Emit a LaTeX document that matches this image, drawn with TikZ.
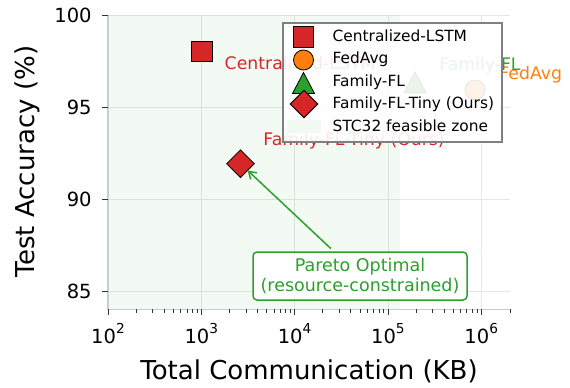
\documentclass[tikz,border=0pt]{standalone}
\usepackage{fontspec}
\setmainfont{DejaVu Sans}
\usetikzlibrary{calc,shapes.geometric,arrows.meta}

\definecolor{tabred}{HTML}{D62728}
\definecolor{taborange}{HTML}{FF7F0E}
\definecolor{tabgreen}{HTML}{2CA02C}
\definecolor{gridgray}{HTML}{E6E6E6}
\definecolor{spinegray}{HTML}{CCCCCC}
\definecolor{zonegreen}{HTML}{F2F9F2}

\begin{document}
\begin{tikzpicture}[x=1pt,y=-1pt,line width=0.8pt,
	ptmark/.style={draw=black,line width=0.8pt,inner sep=0pt,outer sep=0pt},
	ticklab/.style={inner sep=0pt,font=\fontsize{19.5}{22}\selectfont},
	ptlab/.style={inner sep=0pt,anchor=base west,font=\fontsize{17.3}{20}\selectfont},
	legtext/.style={inner sep=0pt,anchor=base west,font=\fontsize{15.4}{18}\selectfont},
	>={Straight Barb[length=7pt,width=9pt]}]

\useasboundingbox (0,0) rectangle (570,388);

%grid
\foreach \d in {3,...,6}
	\draw[gridgray] ({108+93.3*(\d-2)},15)--({108+93.3*(\d-2)},309.4);
\foreach \a in {85,90,95,100}
	\draw[gridgray] (108,{15+18.4*(100-\a)})--(510,{15+18.4*(100-\a)});

%STC32 zone
\fill[tabgreen,fill opacity=0.06] (108,15) rectangle (400,309.4);

%spines
\draw[spinegray,line width=1.2pt] (108,15)--(108,309.4)--(510,309.4);

%y ticks
\foreach \a in {85,90,95,100}{
	\draw[black!80] (108,{15+18.4*(100-\a)})--++(-6,0);
	\node[ticklab,anchor=east] (yl\a) at (92,{15+18.4*(100-\a)}) {\a};
}

%x ticks
\foreach \d in {2,...,6}{
	\draw[black!80] ({108+93.3*(\d-2)},309.4)--++(0,6);
	\node[ticklab,anchor=base] (xl\d) at ({108+93.3*(\d-2)},343) {10\raisebox{10pt}{\fontsize{13.7}{14}\selectfont\d}};
}
\foreach \d in {2,...,5}
	\foreach \m in {2,...,9}
		\draw[black!80,line width=0.6pt] ({108+93.3*(\d-2+log10(\m))},309.4)--++(0,3.5);
\draw[black!80,line width=0.6pt] (510,309.4)--++(0,3.5);

%axis labels
\node[inner sep=0pt,anchor=base,font=\fontsize{26}{30}\selectfont] (xlabel) at (309,379) {Total Communication (KB)};
\node[inner sep=0pt,rotate=90,font=\fontsize{26}{30}\selectfont] (ylabel) at (27,161.5) {Test Accuracy (\%)};

%points
\node[ptmark,fill=tabred,minimum size=20.5pt] (clstm) at (202,51.3) {};
\node[ptmark,fill=taborange,circle,minimum size=20pt] (fedavg) at (475,90) {};
\coordinate (famfl) at (415,82.5);
\draw[ptmark,fill=tabgreen] ($(famfl)+(0,-10.5)$)--($(famfl)+(11,10.5)$)--($(famfl)+(-11,10.5)$)--cycle;
\node[ptmark,fill=tabred,diamond,minimum width=27.6pt,minimum height=27.6pt] (fftiny) at (240.5,163.7) {};

%point labels
\node[ptlab,text=tabred] (clstmlab) at (224.3,69.3) {Centralized-LSTM};
\node[ptlab,text=taborange] (fedavglab) at (499,79.3) {FedAvg};
\node[ptlab,text=tabgreen] (famfllab) at (439,70.7) {Family-FL};
\node[ptlab,text=tabred] (fftinylab) at (263,145.5) {Family-FL-Tiny (Ours)};

%pareto note
\node[draw=tabgreen,line width=1.5pt,rounded corners=4pt,fill=white,text=tabgreen,align=center,inner sep=0pt,
	minimum width=214pt,minimum height=48pt,font=\fontsize{17.5}{20}\selectfont] (pareto) at (360,276) {Pareto Optimal\\(resource-constrained)};
\draw[tabgreen,line width=1.5pt,->,shorten <=4pt] (pareto)--(fftiny);

%legend
\node[draw=gray,line width=1.5pt,fill=white,fill opacity=0.9,draw opacity=1,inner sep=0pt,
	minimum width=219pt,minimum height=119pt] (legend) at (392.5,82.5) {};
\node[ptmark,fill=tabred,minimum size=20.5pt] (lgclstm) at (303.5,37) {};
\node[ptmark,fill=taborange,circle,minimum size=20pt] (lgfedavg) at (303.5,60) {};
\coordinate (lgfamfl) at (303.5,83);
\draw[ptmark,fill=tabgreen] ($(lgfamfl)+(0,-10.5)$)--($(lgfamfl)+(11,10.5)$)--($(lgfamfl)+(-11,10.5)$)--cycle;
\node[ptmark,fill=tabred,diamond,minimum width=27.6pt,minimum height=27.6pt] (lgfftiny) at (304,104) {};
\node[fill=zonegreen,inner sep=0pt,minimum width=34pt,minimum height=12.5pt] (lgzone) at (304,126.5) {};
\foreach \t [count=\i] in {Centralized-LSTM,FedAvg,Family-FL,{Family-FL-Tiny (Ours)},STC32 feasible zone}
	\node[legtext] (lt\i) at (332.3,{41+22.65*(\i-1)}) {\t};

\end{tikzpicture}
\end{document}
